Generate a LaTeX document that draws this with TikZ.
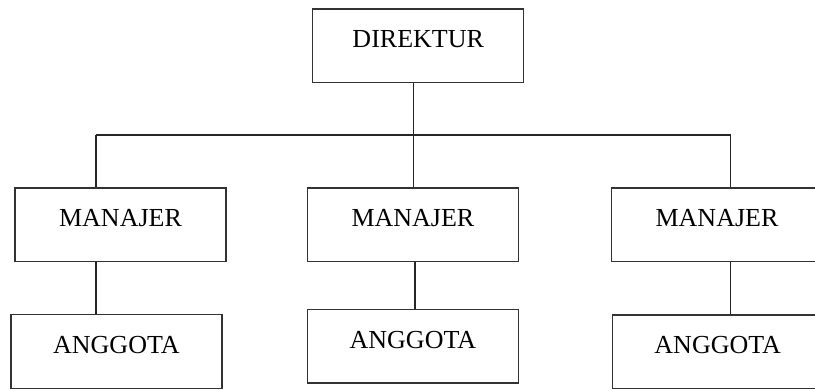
\documentclass[tikz,border=0pt]{standalone}
\usepackage{fontspec}
\setmainfont{Liberation Serif}
\begin{document}
\begin{tikzpicture}[x=0.75pt,y=-0.75pt,
  orgbox/.style={draw=black!80,line width=1pt,inner sep=0pt,
    minimum width=158.3pt,text height=28.9pt,text depth=26.3pt,
    font=\fontsize{19.5pt}{23pt}\selectfont},
  link/.style={draw=black!85,line width=0.9pt}]
\clip (0,0) rectangle (815,390);
\fill[white] (0,0) rectangle (815,390);
\node[orgbox] (dir) at (418.2,45.7) {DIREKTUR};
\node[orgbox] (m1) at (120.5,224.7) {MANAJER};
\node[orgbox] (m2) at (412.9,224.7) {MANAJER};
\node[orgbox] (m3) at (717,224.7) {MANAJER};
\node[orgbox] (a1) at (116.4,351.5) {ANGGOTA};
\node[orgbox] (a2) at (412.9,346.3) {ANGGOTA};
\node[orgbox] (a3) at (717.7,351.7) {ANGGOTA};
\coordinate (bl) at (96,135);
\coordinate (bm) at (413.7,135);
\coordinate (br) at (730.7,135);
\draw[link] (bl) -- (br);
\draw[link] (dir.south -| bm) -- (m2.north -| bm);
\draw[link] (bl) -- (m1.north -| bl);
\draw[link] (br) -- (m3.north -| br);
\draw[link] (m1.south -| bl) -- (a1.north -| bl);
\coordinate (cm) at (415,300);
\draw[link] (m2.south -| cm) -- (a2.north -| cm);
\draw[link] (m3.south -| br) -- (a3.north -| br);
\end{tikzpicture}
\end{document}
